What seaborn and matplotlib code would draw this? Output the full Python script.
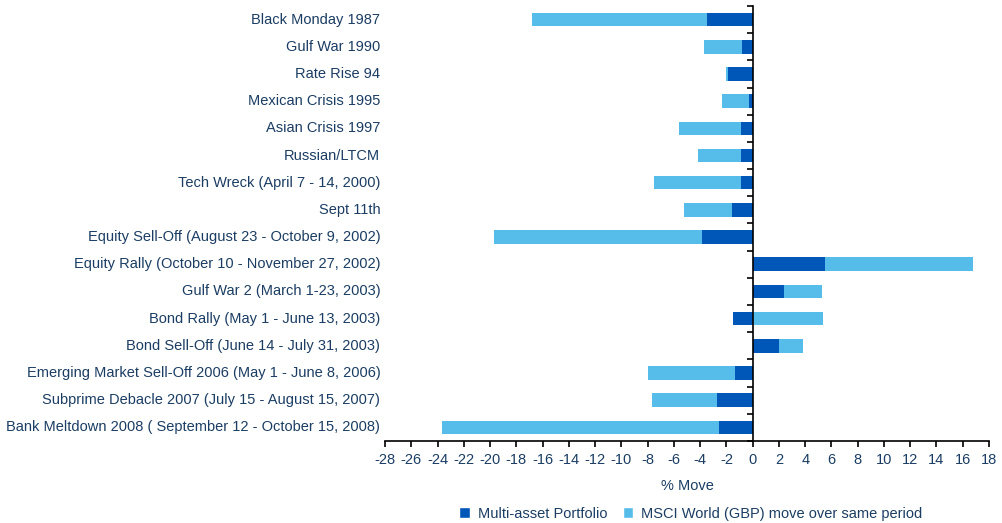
import numpy as np
import pandas as pd
import seaborn as sns
import matplotlib.pyplot as plt
import matplotlib.transforms as mtransforms
from matplotlib.patches import Patch

## Data (% move)
events = [
    "Black Monday 1987",
    "Gulf War 1990",
    "Rate Rise 94",
    "Mexican Crisis 1995",
    "Asian Crisis 1997",
    "Russian/LTCM",
    "Tech Wreck (April 7 - 14, 2000)",
    "Sept 11th",
    "Equity Sell-Off (August 23 - October 9, 2002)",
    "Equity Rally (October 10 - November 27, 2002)",
    "Gulf War 2 (March 1-23, 2003)",
    "Bond Rally (May 1 - June 13, 2003)",
    "Bond Sell-Off (June 14 - July 31, 2003)",
    "Emerging Market Sell-Off 2006 (May 1 - June 8, 2006)",
    "Subprime Debacle 2007 (July 15 - August 15, 2007)",
    "Bank Meltdown 2008 ( September 12 - October 15, 2008)",
]
portfolio = [-3.5, -0.8, -1.9, -0.3, -0.9, -0.9, -0.9, -1.6, -3.85, 5.5, 2.4, -1.5, 2.0, -1.35, -2.7, -2.55]
msci = [-16.8, -3.7, -2.0, -2.35, -5.65, -4.2, -7.5, -5.2, -19.7, 16.8, 5.25, 5.35, 3.85, -7.95, -7.7, -23.7]
xticks = list(range(-28, 19, 2))

dark = "#0057b8"
light = "#56bcea"
txt = "#1b3d63"

sns.set_style("white")
plt.rcParams["font.family"] = ["Liberation Sans", "DejaVu Sans"]

df = pd.DataFrame({"event": events, "portfolio": portfolio, "msci": msci})

fig = plt.figure(figsize=(10.03, 5.23), dpi=100)
ax = fig.add_axes([0.384, 0.157, 0.602, 0.8315])

# MSCI bar behind, portfolio bar on top
sns.barplot(data=df, x="msci", y="event", color=light, width=0.5,
            linewidth=0, saturation=1, errorbar=None, ax=ax)
sns.barplot(data=df, x="portfolio", y="event", color=dark, width=0.5,
            linewidth=0, saturation=1, errorbar=None, ax=ax)

ax.set_xlim(-28, 18)
ax.set_ylim(len(events) - 0.5, -0.5)
ax.set_xticks(xticks)
ax.set_xticklabels([str(t) for t in xticks], fontsize=10.5, color=txt)
ax.set_yticks(np.arange(-0.5, len(events), 1))
ax.set_yticklabels([])
ax.tick_params(axis="both", direction="out", length=4, width=1.2, color="black",
               bottom=True, left=True)
ax.tick_params(axis="x", pad=5)

ax.spines["left"].set_position(("data", 0))
for s in ["top", "right"]:
    ax.spines[s].set_visible(False)
for s in ["left", "bottom"]:
    ax.spines[s].set_color("black")
    ax.spines[s].set_linewidth(1.2)

# category labels sit at the left edge of the axes
trans = mtransforms.blended_transform_factory(ax.transAxes, ax.transData)
for i, lab in enumerate(events):
    ax.text(-0.008, i, lab, transform=trans, ha="right", va="center",
            fontsize=10.5, color=txt)

ax.set_xlabel("% Move", fontsize=10.5, color=txt, labelpad=8)
ax.set_ylabel("")

handles = [Patch(facecolor=dark, label="Multi-asset Portfolio"),
           Patch(facecolor=light, label="MSCI World (GBP) move over same period")]
leg = fig.legend(handles=handles, loc="center", bbox_to_anchor=(0.689, 0.018),
                 ncol=2, frameon=False, handlelength=0.7, handleheight=0.7,
                 handletextpad=0.55, columnspacing=1.1, fontsize=10.5)
for t in leg.get_texts():
    t.set_color(txt)

fig.savefig("out.png", dpi=100)
